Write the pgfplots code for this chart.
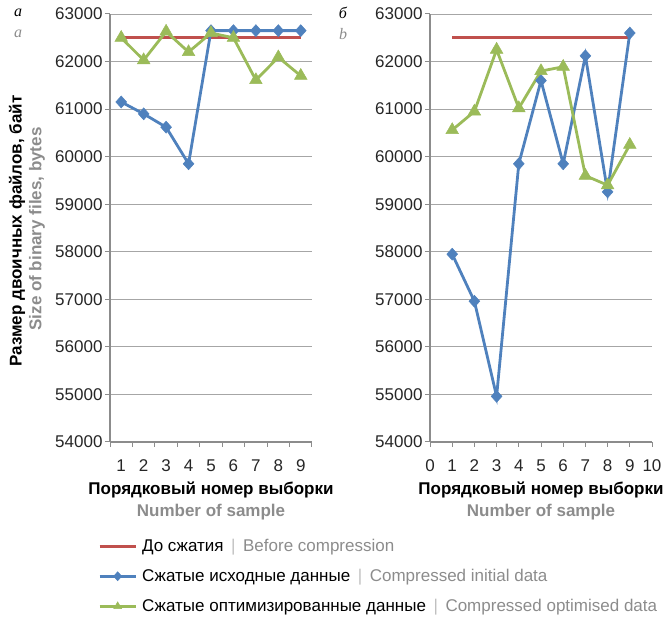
\documentclass[border=0pt]{standalone}
\usepackage{pgfplots}
\pgfplotsset{compat=1.18}
\usepackage{fontspec}
\setmainfont{Liberation Sans}
\newfontfamily\serifit{Liberation Serif}
\definecolor{cred}{HTML}{C0504D}
\definecolor{cblue}{HTML}{4F81BD}
\definecolor{cgreen}{HTML}{9BBB59}
\definecolor{gridc}{HTML}{A6A6A6}
\definecolor{axc}{HTML}{8C8C8C}
\definecolor{txtg}{HTML}{8C8C8C}
\definecolor{sepg}{HTML}{BFBFBF}

\pgfplotstableread{
x before initial optimised
1 62500 61150 62500
2 62500 60900 62030
3 62500 60620 62630
4 62500 59850 62200
5 62500 62650 62600
6 62500 62650 62500
7 62500 62650 61610
8 62500 62650 62090
9 62500 62650 61700
}\dataA
\pgfplotstableread{
x before initial optimised
1 62500 57950 60560
2 62500 56960 60950
3 62500 54960 62250
4 62500 59850 61020
5 62500 61600 61800
6 62500 59850 61890
7 62500 62120 59600
8 62500 59260 59400
9 62500 62600 60250
}\dataB

\pgfplotsset{
  common/.style={
    scale only axis,
    height=428pt,
    ymin=54000, ymax=63000,
    ytick={54000,55000,...,63000},
    axis lines*=left,
    axis line style={axc, line width=1.2pt},
    ymajorgrids,
    grid style={gridc, line width=0.9pt},
    tick style={axc, line width=1pt},
    tick align=outside,
    major tick length=5pt,
    yticklabel style={font=\fontsize{17}{19}\selectfont, text=black!85, xshift=1pt},
    xticklabel style={font=\fontsize{17}{19}\selectfont, text=black!85, yshift=-9pt},
    /pgf/number format/assume math mode=true,
    /pgf/number format/.cd, 1000 sep={}, /pgfplots/.cd,
    scaled y ticks=false,
    clip=false,
  },
  sred/.style={cred, line width=2.8pt, no markers},
  sblue/.style={cblue, line width=2.8pt, mark=diamond*, mark size=6pt, mark options={fill=cblue, draw=cblue, line width=0.5pt, xscale=1.2}},
  sgreen/.style={cgreen, line width=2.8pt, mark=triangle*, mark size=7.3pt, mark options={fill=cgreen, draw=cgreen, line width=0.5pt}},
}

\begin{document}
\begin{tikzpicture}[x=1pt,y=1pt]
\useasboundingbox (0,0) rectangle (665,-617);

% left axis
\begin{axis}[common,
  at={(110pt,-442pt)}, anchor=south west,
  width=202pt,
  xmin=0.5, xmax=9.5,
  xtick={0.5,1.5,...,9.5},
  x tick label as interval,
  xticklabels={1,2,3,4,5,6,7,8,9},
  legend style={at={(-0.059,-0.222)}, anchor=north west, draw=none, fill=none,
     font=\fontsize{17}{19}\selectfont, row sep=12.3pt, inner sep=0pt,
     cells={anchor=west}},
  legend cell align=left,
  legend image code/.code={\draw[#1, line width=2.8pt, mark repeat=2, mark phase=2, mark size=4.5pt] plot coordinates {(0pt,0pt) (18pt,0pt) (36pt,0pt)};},
]
\addplot[sred] table[x=x,y=before]{\dataA};
\addplot[sblue] table[x=x,y=initial]{\dataA};
\addplot[sgreen] table[x=x,y=optimised]{\dataA};
\legend{\hspace{3pt}До сжатия {\color{sepg}\,|\,} {\color{txtg}Before compression},
        \hspace{3pt}Сжатые исходные данные {\color{sepg}\,|\,} {\color{txtg}Compressed initial data},
        \hspace{3pt}Сжатые оптимизированные данные {\color{sepg}\,|\,} {\color{txtg}Compressed optimised data}}
\end{axis}

% right axis
\begin{axis}[common,
  at={(430pt,-442pt)}, anchor=south west,
  width=222pt,
  xmin=0, xmax=10,
  xtick={0,...,10},
]
\addplot[sred] table[x=x,y=before]{\dataB};
\addplot[sblue] table[x=x,y=initial]{\dataB};
\addplot[sgreen] table[x=x,y=optimised]{\dataB};
\end{axis}

% axis titles
\node[rotate=90, font=\fontsize{17}{19}\selectfont\bfseries] at (17,-231) {Размер двоичных файлов, байт};
\node[rotate=90, font=\fontsize{17}{19}\selectfont\bfseries, text=txtg] at (37,-229) {Size of binary files, bytes};
\node[font=\fontsize{17}{19}\selectfont\bfseries] at (211,-490) {Порядковый номер выборки};
\node[font=\fontsize{17}{19}\selectfont\bfseries, text=txtg] at (211,-512) {Number of sample};
\node[font=\fontsize{17}{19}\selectfont\bfseries] at (541,-490) {Порядковый номер выборки};
\node[font=\fontsize{17}{19}\selectfont\bfseries, text=txtg] at (541,-512) {Number of sample};
% panel labels
\node[font=\fontsize{16}{18}\selectfont\serifit\itshape] at (18,-13) {а};
\node[font=\fontsize{16}{18}\selectfont\serifit\itshape, text=txtg] at (18,-34) {a};
\node[font=\fontsize{16}{18}\selectfont\serifit\itshape] at (343,-13) {б};
\node[font=\fontsize{16}{18}\selectfont\serifit\itshape, text=txtg] at (343,-34) {b};
\end{tikzpicture}
\end{document}
